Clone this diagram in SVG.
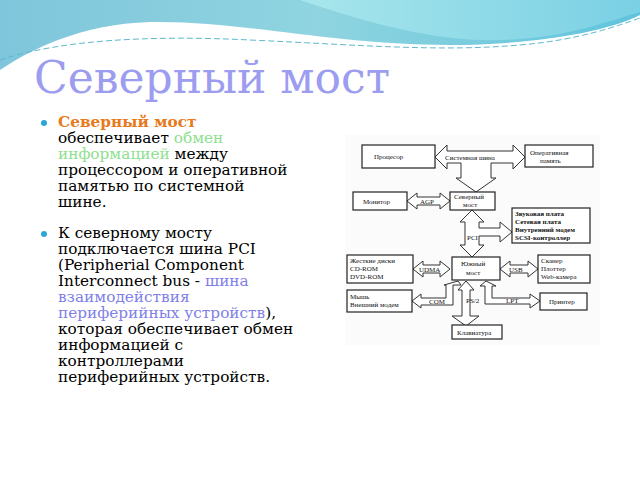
<svg xmlns="http://www.w3.org/2000/svg" width="640" height="480" viewBox="0 0 640 480">
<defs>
<linearGradient id="bg1" x1="0" y1="0" x2="1" y2="0"><stop offset="0" stop-color="#7fc6dc"/><stop offset="0.5" stop-color="#8fd4e0"/><stop offset="1" stop-color="#5fc4dc"/></linearGradient>
<linearGradient id="bg2" x1="0" y1="0" x2="1" y2="0"><stop offset="0" stop-color="#a8e6ec"/><stop offset="1" stop-color="#7ad0e4"/></linearGradient>
</defs>
<style>
.t{font-family:"DejaVu Serif",serif;font-size:15.3px;fill:#000}
.g{fill:#8fe08f}
.p{fill:#8080e8}
.d{font-family:"Liberation Serif",serif;font-size:7px;fill:#111}
.b{fill:#fff;stroke:#222;stroke-width:1.2}
.a{fill:#fff;stroke:#333;stroke-width:1}
</style>
<rect width="640" height="480" fill="#fff"/>
<path d="M0 0H640V15C600 35 520 45 450 45 330 45 240 20 150 22 80 24 30 50 0 70Z" fill="url(#bg1)"/>
<path d="M300 0C360 20 420 38 480 40 560 42 610 20 640 12V0Z" fill="url(#bg2)"/>
<path d="M0 60C60 40 150 35 250 40 360 45 440 52 520 45 580 40 620 25 640 18" fill="none" stroke="#5fb8cc" stroke-width="1" stroke-dasharray="6 3"/>
<text x="34" y="93" font-family="DejaVu Serif,serif" font-size="44" fill="#9c9cf0">Северный мост</text>
<g id="text">
<circle cx="44" cy="123" r="3" fill="#2aa7d8"/>
<text class="t" x="58" y="127"><tspan font-weight="bold" style="fill:#e87a1e">Северный мост</tspan></text>
<text class="t" x="58" y="143">обеспечивает <tspan class="g">обмен</tspan></text>
<text class="t" x="58" y="159"><tspan class="g">информацией</tspan> между</text>
<text class="t" x="58" y="175">процессором и оперативной</text>
<text class="t" x="58" y="191">памятью по системной</text>
<text class="t" x="58" y="207">шине.</text>
<circle cx="44" cy="234" r="3" fill="#2aa7d8"/>
<text class="t" x="58" y="238">К северному мосту</text>
<text class="t" x="58" y="254">подключается шина PCI</text>
<text class="t" x="58" y="270">(Peripherial Component</text>
<text class="t" x="58" y="286">Interconnect bus - <tspan class="p">шина</tspan></text>
<text class="t" x="58" y="302"><tspan class="p">взаимодействия</tspan></text>
<text class="t" x="58" y="318"><tspan class="p">периферийных устройств</tspan>),</text>
<text class="t" x="58" y="334">которая обеспечивает обмен</text>
<text class="t" x="58" y="350">информацией с</text>
<text class="t" x="58" y="366">контроллерами</text>
<text class="t" x="58" y="382">периферийных устройств.</text>
</g>
<rect x="345" y="135" width="255" height="210" fill="#fbfbfb"/>
<g id="connectors">
<polygon class="a" points="435,157 447,145 447,151 513,151 513,145 525,157 513,169 513,163 491,163 491,178 496,178 476,192 456,178 461,178 461,163 447,163 447,169"/>
<text class="d" x="445" y="160">Системная шина</text>
<polygon class="a" points="407,201 417,193 417,197 440,197 440,193 450,201 440,209 440,205 417,205 417,209"/>
<text class="d" x="420" y="204">AGP</text>
<polygon class="a" points="472,210 484,222 479,222 479,228 500,228 500,222 512,232 500,242 500,236 479,236 479,245 484,245 472,257 460,245 465,245 465,222 460,222"/>
<text class="d" x="467" y="240">PCI</text>
<polygon class="a" points="413,269 423,261 423,265 440,265 440,261 450,269 440,277 440,273 423,273 423,277"/>
<text class="d" x="419" y="272">UDMA</text>
<polygon class="a" points="500,269 510,261 510,265 528,265 528,261 538,269 528,277 528,273 510,273 510,277"/>
<text class="d" x="509" y="272">USB</text>
<polygon class="a" points="412,301 421,294 421,298 446,298 446,285 444,285 458,281 461,285 453,285 453,305 421,305 421,308"/>
<text class="d" x="429" y="304">COM</text>
<polygon class="a" points="466,281 474,290 470,290 470,316 479,316 466,326 452,316 462,316 462,290 458,290"/>
<text class="d" x="466" y="303">PS/2</text>
<polygon class="a" points="486,281 496,286 492,286 492,298 530,298 530,294 540,301 530,308 530,304 485,304 485,286 480,286"/>
<text class="d" x="506" y="303">LPT</text>
</g>
<g id="n-cpu"><rect class="b" x="362" y="145" width="73" height="23"/><text class="d" x="374" y="159">Процесор</text></g>
<g id="n-ram"><rect class="b" x="525" y="145" width="68" height="22"/><text class="d" x="530" y="155">Оперативная</text><text class="d" x="540" y="163">память</text></g>
<g id="n-north"><rect class="b" x="450" y="192" width="45" height="18"/><text class="d" x="454" y="199">Северный</text><text class="d" x="463" y="207">мост</text></g>
<g id="n-mon"><rect class="b" x="353" y="192" width="54" height="18"/><text class="d" x="363" y="204">Монитор</text></g>
<g id="n-pci"><rect class="b" x="512" y="208" width="78" height="35"/><text class="d" x="515" y="216" font-weight="bold">Звуковая плата</text><text class="d" x="515" y="224" font-weight="bold">Сетевая плата</text><text class="d" x="515" y="232" font-weight="bold">Внутренний модем</text><text class="d" x="515" y="240" font-weight="bold">SCSI-контроллер</text></g>
<g id="n-hdd"><rect class="b" x="347" y="255" width="66" height="28"/><text class="d" x="350" y="263">Жесткие диски</text><text class="d" x="350" y="271">CD-ROM</text><text class="d" x="350" y="279">DVD-ROM</text></g>
<g id="n-south"><rect class="b" x="452" y="257" width="48" height="23"/><text class="d" x="461" y="266">Южный</text><text class="d" x="466" y="275">мост</text></g>
<g id="n-usb"><rect class="b" x="538" y="255" width="52" height="28" stroke="#999"/><text class="d" x="541" y="263">Сканер</text><text class="d" x="541" y="271">Плоттер</text><text class="d" x="541" y="279">Web-камера</text></g>
<g id="n-mouse"><rect class="b" x="347" y="290" width="65" height="22"/><text class="d" x="350" y="299">Мышь</text><text class="d" x="350" y="307">Внешний модем</text></g>
<g id="n-prn"><rect class="b" x="540" y="293" width="47" height="17"/><text class="d" x="549" y="304">Принтер</text></g>
<g id="n-kbd"><rect class="b" x="452" y="325" width="50" height="14"/><text class="d" x="457" y="335">Клавиатура</text></g>
</svg>
